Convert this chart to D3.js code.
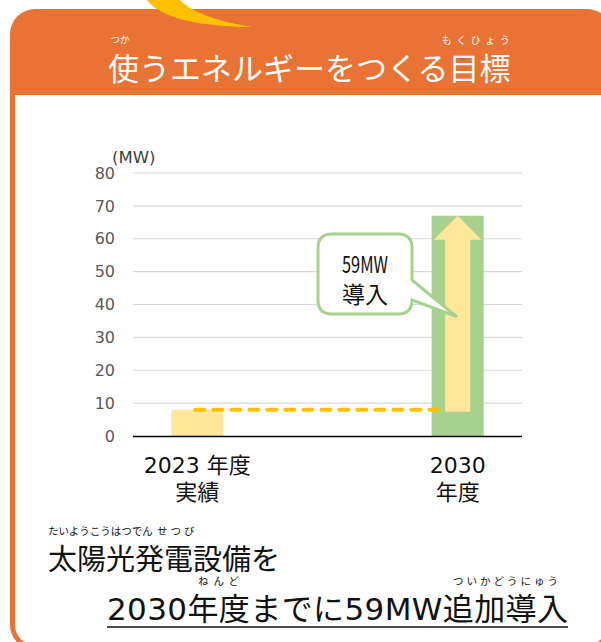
<!DOCTYPE html>
<html><head><meta charset="utf-8">
<script src="https://cdn.jsdelivr.net/npm/d3@7"></script>
<style>
html,body{margin:0;padding:0;background:#fff;}
svg{display:block;font-family:"Noto Sans CJK JP","Noto Sans",sans-serif;}
.lat{font-family:"DejaVu Sans","Noto Sans CJK JP",sans-serif;}
</style></head>
<body>
<svg id="c" width="601" height="642"></svg>
<script>
// ---- data ----
const categories = ["2023年度実績", "2030年度"];
const categoryLabelLines = [["2023 年度", "実績"], ["2030", "年度"]];
const values = [8, 67];          // MW
const addedValue = 59;           // MW added by 2030
const yTicks = [0, 10, 20, 30, 40, 50, 60, 70, 80];
const yUnit = "(MW)";
const titleText = "使うエネルギーをつくる目標";
const calloutLines = ["59MW", "導入"];
const footLine1 = "太陽光発電設備を";
const footLine2 = "2030年度までに59MW追加導入";

const svg = d3.select("#c");
const ORANGE = "#E97334";

// ---- frame ----
svg.append("rect").attr("x", 10).attr("y", 9).attr("width", 602).attr("height", 641)
  .attr("rx", 25).attr("fill", ORANGE);
svg.append("rect").attr("x", 15).attr("y", 95).attr("width", 592).attr("height", 550)
  .attr("rx", 20).attr("fill", "#fff");
svg.append("rect").attr("x", 15).attr("y", 95).attr("width", 592).attr("height", 30).attr("fill", "#fff");

// yellow sun arc on top
svg.append("path")
  .attr("d", "M147,0 C160,18 200,27 252,27 C215,21 192,12 180,0 Z")
  .attr("fill", "#FFC000");

// title
svg.append("text").attr("x", 108).attr("y", 80).attr("font-size", 31).attr("fill", "#fff")
  .text(titleText);
svg.append("text").attr("x", 120).attr("y", 43).attr("font-size", 9.5).attr("fill", "#fff")
  .attr("text-anchor", "middle").text("つか");
svg.append("text").attr("x", 478).attr("y", 44).attr("font-size", 10).attr("fill", "#fff")
  .attr("text-anchor", "middle").attr("letter-spacing", 4.5).text("もくひょう");

// ---- chart ----
const pLeft = 133, pRight = 522, pTop = 173, pBottom = 436;
const y = d3.scaleLinear().domain([0, 80]).range([pBottom, pTop]);
const x = d3.scaleBand().domain(categories).range([pLeft, pRight])
  .paddingInner(0.8).paddingOuter(0.147);

const g = svg.append("g");
// gridlines
g.selectAll("line.grid").data(yTicks.filter(d => d > 0)).join("line")
  .attr("x1", pLeft).attr("x2", pRight)
  .attr("y1", d => y(d)).attr("y2", d => y(d))
  .attr("stroke", "#d9d9d9").attr("stroke-width", 1.2);

// y axis labels
const ya = g.append("g").attr("transform", `translate(${pLeft},0)`)
  .call(d3.axisLeft(y).tickValues(yTicks).tickSize(0).tickPadding(18));
ya.select(".domain").remove();
ya.selectAll("text").attr("font-size", 16).attr("fill", "#595959")
  .attr("font-family", "'DejaVu Sans',sans-serif");

g.append("text").attr("class", "lat").attr("x", 112).attr("y", 163).attr("font-size", 16.5).attr("fill", "#404040")
  .text(yUnit);

// bars
const barColors = ["#FFE699", "#A9D18E"];
g.selectAll("rect.bar").data(values).join("rect")
  .attr("x", (d, i) => x(categories[i]))
  .attr("width", x.bandwidth())
  .attr("y", d => y(d))
  .attr("height", d => y(0) - y(d))
  .attr("fill", (d, i) => barColors[i]);

// x axis
const xa = g.append("g").attr("transform", `translate(0,${pBottom})`)
  .call(d3.axisBottom(x).tickSize(0).tickFormat(""));
xa.select(".domain").attr("stroke", "#000").attr("stroke-width", 1.5)
  .attr("d", `M${pLeft},0.5H${pRight}`);
categories.forEach((c, i) => {
  const t = g.append("text").attr("class", "lat").attr("text-anchor", "middle").attr("font-size", 22).attr("fill", "#111");
  categoryLabelLines[i].forEach((ln, k) => {
    t.append("tspan").attr("x", x(c) + x.bandwidth() / 2).attr("y", pBottom + 37 + k * 27).text(ln);
  });
});

// dashed baseline of current value
const cx0 = x(categories[0]) + x.bandwidth() / 2;
const cx1 = x(categories[1]) + x.bandwidth() / 2;
g.append("line").attr("x1", cx0 - 2).attr("x2", cx1)
  .attr("y1", y(values[0])).attr("y2", y(values[0]))
  .attr("stroke", "#FFC000").attr("stroke-width", 4)
  .attr("stroke-dasharray", "9 9").attr("stroke-linecap", "round");

// up arrow
const shaftW = 25, headW = 48, headL = 24;
const yb = y(values[0]) + 2, yt = y(values[1]);
g.append("path").attr("fill", "#FFE699")
  .attr("d", `M${cx1 - shaftW/2},${yb} V${yt + headL} H${cx1 - headW/2} L${cx1},${yt} L${cx1 + headW/2},${yt + headL} H${cx1 + shaftW/2} V${yb} Z`);

// callout
const bx0 = 318, bx1 = 412, by0 = 234, by1 = 314, r = 14;
const tipX = cx1 - 1, tipY = y(values[0] + addedValue / 2) + 4;
g.append("path").attr("fill", "#fff").attr("stroke", "#A9D18E").attr("stroke-width", 3)
  .attr("stroke-linejoin", "miter")
  .attr("d", `M${bx0 + r},${by0} H${bx1 - r} Q${bx1},${by0} ${bx1},${by0 + r} V280 L${tipX},${tipY} L${bx1},300 V${by1 - r} Q${bx1},${by1} ${bx1 - r},${by1} H${bx0 + r} Q${bx0},${by1} ${bx0},${by1 - r} V${by0 + r} Q${bx0},${by0} ${bx0 + r},${by0} Z`);
g.append("text").attr("x", 342).attr("y", 273).attr("font-size", 23).attr("fill", "#111")
  .attr("textLength", 46).attr("lengthAdjust", "spacingAndGlyphs").text(calloutLines[0]);
g.append("text").attr("x", 342).attr("y", 303).attr("font-size", 23).attr("fill", "#111")
  .text(calloutLines[1]);

// ---- footer text ----
svg.append("text").attr("x", 48).attr("y", 570).attr("font-size", 29).attr("fill", "#111")
  .text(footLine1);
svg.append("text").attr("x", 48).attr("y", 535).attr("font-size", 10.5).attr("fill", "#111")
  .text("たいようこうはつでん");
svg.append("text").attr("x", 157).attr("y", 535).attr("font-size", 10.5).attr("fill", "#111")
  .attr("letter-spacing", 3).text("せつび");

svg.append("text").attr("class", "lat").attr("x", 107).attr("y", 620).attr("font-size", 31).attr("fill", "#111")
  .attr("textLength", 461).attr("lengthAdjust", "spacing").text(footLine2);
svg.append("line").attr("x1", 107).attr("x2", 568).attr("y1", 627).attr("y2", 627)
  .attr("stroke", "#111").attr("stroke-width", 1.5);
svg.append("text").attr("x", 221).attr("y", 585).attr("font-size", 10.5).attr("fill", "#111")
  .attr("text-anchor", "middle").attr("letter-spacing", 5).text("ねんど");
svg.append("text").attr("x", 507).attr("y", 585).attr("font-size", 10.5).attr("fill", "#111")
  .attr("text-anchor", "middle").attr("letter-spacing", 3).text("ついかどうにゅう");
</script>
</body></html>
